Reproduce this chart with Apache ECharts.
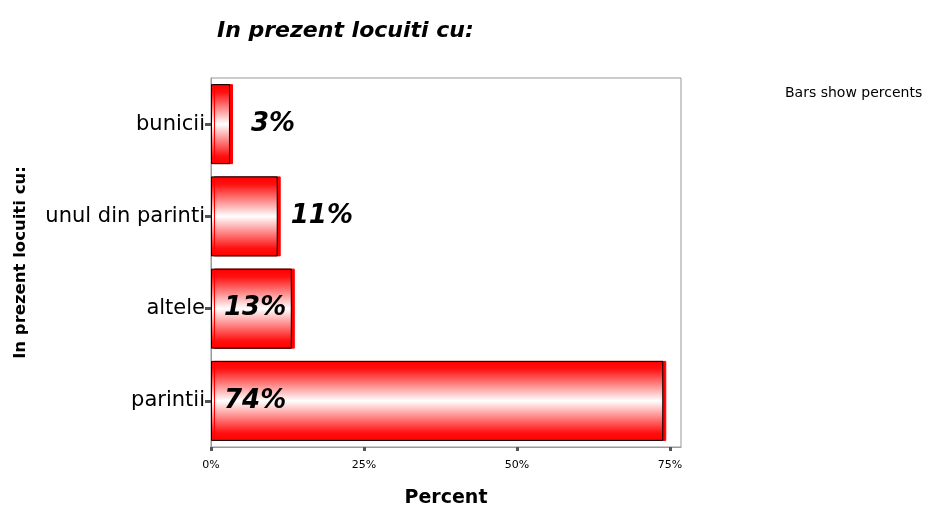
<!DOCTYPE html>
<html>
<head>
<meta charset="utf-8">
<script src="https://cdn.jsdelivr.net/npm/echarts@6/dist/echarts.min.js"></script>
<style>
  html, body { margin: 0; padding: 0; background: #fff; }
  #chart { width: 942px; height: 506px; }
</style>
</head>
<body>
<div id="chart"></div>
<script>
const categories = ['bunicii', 'unul din parinti', 'altele', 'parintii'];
const percents = [3.1, 10.9, 13.2, 73.9];
const labelPlaces = ['right', 'right', 'insideLeft', 'insideLeft'];
const tickValues = [0, 25, 50, 75];

const barFill = {
  type: 'linear', x: 0, y: 0, x2: 0, y2: 1,
  colorStops: [
    { offset: 0, color: '#ff0000' },
    { offset: 0.1, color: '#ff1010' },
    { offset: 0.5, color: '#ffffff' },
    { offset: 0.9, color: '#ff1010' },
    { offset: 1, color: '#ff0000' },
  ],
};

const chart = echarts.init(document.getElementById('chart'));

chart.setOption({
  animation: false,
  backgroundColor: '#fff',
  title: {
    text: 'In prezent locuiti cu:',
    left: 212,
    top: 15,
    textStyle: {
      fontFamily: 'DejaVu Sans',
      fontStyle: 'italic',
      fontWeight: 'bold',
      fontSize: 22,
      color: '#000',
    },
  },
  graphic: [{
    type: 'text',
    left: 785,
    top: 86,
    style: {
      text: 'Bars show percents',
      font: '14px "DejaVu Sans"',
      fill: '#000',
    },
  }],
  grid: {
    left: 211, right: 261, top: 78, bottom: 59,
    outerBoundsMode: 'none',
    containLabel: false,
    show: true,
    borderColor: '#999',
    borderWidth: 1,
  },
  xAxis: {
    type: 'value',
    min: 0,
    max: 76.8,
    interval: 25,
    name: 'Percent',
    nameLocation: 'middle',
    nameGap: 42,
    nameTextStyle: {
      fontFamily: 'DejaVu Sans',
      fontWeight: 'bold',
      fontSize: 19,
      color: '#000',
    },
    splitLine: { show: false },
    axisLine: { show: true, lineStyle: { color: '#999', width: 1 } },
    axisTick: {
      show: true,
      customValues: tickValues,
      length: 4,
      lineStyle: { color: '#555', width: 3 },
    },
    axisLabel: {
      customValues: tickValues,
      formatter: (v) => v + '%',
      fontFamily: 'DejaVu Sans',
      fontSize: 11,
      color: '#000',
      margin: 13,
    },
  },
  yAxis: {
    type: 'category',
    data: categories,
    inverse: true,
    name: 'In prezent locuiti cu:',
    nameLocation: 'middle',
    nameGap: 182,
    nameTextStyle: {
      fontFamily: 'DejaVu Sans',
      fontWeight: 'bold',
      fontSize: 16.5,
      color: '#000',
    },
    axisLine: { show: true, lineStyle: { color: '#999', width: 1 } },
    axisTick: {
      show: true,
      alignWithLabel: true,
      length: 6,
      lineStyle: { color: '#555', width: 3 },
    },
    axisLabel: {
      fontFamily: 'DejaVu Sans',
      fontSize: 21,
      color: '#000',
      margin: 6,
    },
  },
  series: [{
    type: 'bar',
    barWidth: 80,
    data: percents.map((v, i) => ({
      value: v,
      label: {
        position: labelPlaces[i],
        distance: i === 0 ? 21 : 13,
      },
    })),
    itemStyle: {
      color: barFill,
      borderColor: '#000',
      borderWidth: 1,
      shadowColor: '#ff0000',
      shadowOffsetX: 3,
      shadowBlur: 0,
    },
    label: {
      show: true,
      formatter: (p) => Math.round(p.value) + '%',
      fontFamily: 'DejaVu Sans',
      fontStyle: 'italic',
      fontWeight: 'bold',
      fontSize: 26,
      color: '#000',
    },
  }],
});
</script>
</body>
</html>
